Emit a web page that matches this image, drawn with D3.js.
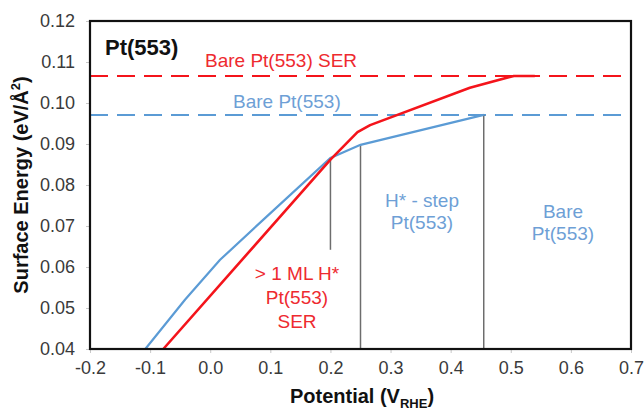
<!DOCTYPE html>
<html>
<head>
<meta charset="utf-8">
<script src="https://cdn.jsdelivr.net/npm/d3@7"></script>
<style>
  html, body { margin: 0; padding: 0; background: #fff; }
  svg { display: block; font-family: "Liberation Sans", Arial, sans-serif; }
</style>
</head>
<body>
<svg id="chart" width="644" height="410"></svg>
<script>
// Axis ticks
const xTicks = [-0.2, -0.1, 0.0, 0.1, 0.2, 0.3, 0.4, 0.5, 0.6, 0.7];
const yTicks = [0.04, 0.05, 0.06, 0.07, 0.08, 0.09, 0.10, 0.11, 0.12];

// Surface energy vs potential, stepped Pt(553)
const bluePotential = [-0.108, -0.042, 0.016, 0.088, 0.2, 0.25, 0.455];
const blueEnergy    = [0.040, 0.052, 0.0617, 0.0715, 0.0866, 0.0898, 0.0971];

// Surface energy vs potential, Pt(553) with surface restructuring (SER)
const redPotential = [-0.078, 0.2, 0.245, 0.266, 0.432, 0.505, 0.54];
const redEnergy    = [0.040, 0.0862, 0.0929, 0.0946, 0.1037, 0.1066, 0.1066];

// Reference levels of the bare surfaces
const bareSER = 0.1066;
const bare = 0.0971;

// Phase boundaries
const boundaries = [
  { x: 0.2,   top: 0.0866, bottom: 0.0642 },
  { x: 0.25,  top: 0.0898, bottom: 0.04 },
  { x: 0.455, top: 0.0971, bottom: 0.04 }
];

const RED = "#f4141b";
const BLUE = "#5b9bd5";
const RED_TXT = "#ee2a2f";
const BLUE_TXT = "#6e9fd6";

const margin = { left: 90, top: 21, right: 13, bottom: 61 };
const W = 644, H = 410;
const iw = W - margin.left - margin.right;
const ih = H - margin.top - margin.bottom;

const svg = d3.select("#chart");
const g = svg.append("g").attr("transform", `translate(${margin.left},${margin.top})`);

const x = d3.scaleLinear().domain([-0.2, 0.7]).range([0, iw]);
const y = d3.scaleLinear().domain([0.04, 0.12]).range([ih, 0]);

// Axes (plain hyphen for negative values)
const xAxis = g.append("g").attr("transform", `translate(0,${ih})`)
  .call(d3.axisBottom(x).tickValues(xTicks).tickFormat(d => d.toFixed(1)).tickSize(4).tickSizeOuter(0));
const yAxis = g.append("g")
  .call(d3.axisLeft(y).tickValues(yTicks).tickFormat(d => d.toFixed(2)).tickSize(4).tickSizeOuter(0));
[xAxis, yAxis].forEach(a => {
  a.select(".domain").remove();
  a.selectAll(".tick line").attr("stroke", "#c8c8c8");
  a.selectAll(".tick text").attr("fill", "#3a3a3a").style("font-size", "18px");
});
xAxis.selectAll(".tick text").attr("y", 25).attr("dy", null);
yAxis.selectAll(".tick text").attr("x", -15);

// Dashed reference levels
g.append("line").attr("x1", 0).attr("x2", iw).attr("y1", y(bareSER)).attr("y2", y(bareSER))
  .attr("stroke", RED).attr("stroke-width", 2).attr("stroke-dasharray", "18,9");
g.append("line").attr("x1", 0).attr("x2", iw).attr("y1", y(bare)).attr("y2", y(bare))
  .attr("stroke", BLUE).attr("stroke-width", 2).attr("stroke-dasharray", "18,9");

// Phase boundary markers
g.selectAll(".boundary").data(boundaries).enter().append("line")
  .attr("class", "boundary")
  .attr("x1", d => x(d.x)).attr("x2", d => x(d.x))
  .attr("y1", d => y(d.top)).attr("y2", d => y(d.bottom))
  .attr("stroke", "#6d6d6d").attr("stroke-width", 1.5);

// Curves
const line = d3.line().x(d => x(d[0])).y(d => y(d[1]));
g.append("path").datum(d3.zip(bluePotential, blueEnergy))
  .attr("d", line).attr("fill", "none").attr("stroke", BLUE).attr("stroke-width", 2.2);
g.append("path").datum(d3.zip(redPotential, redEnergy))
  .attr("d", line).attr("fill", "none").attr("stroke", RED).attr("stroke-width", 2.6)
  .attr("stroke-linejoin", "round");

// Frame
g.append("rect").attr("x", 0).attr("y", 0).attr("width", iw).attr("height", ih)
  .attr("fill", "none").attr("stroke", "#111").attr("stroke-width", 2.2);

// Annotations
function label(lines, cx, cy, color, size, gap, weight, anchor) {
  const t = g.append("text").attr("fill", color).style("font-size", size + "px")
    .style("font-weight", weight || "normal").attr("text-anchor", anchor || "middle");
  lines.forEach((s, i) => {
    t.append("tspan").attr("x", cx).attr("y", cy + i * gap).text(s);
  });
  return t;
}
label(["Pt(553)"], 15, 34, "#111", 22, 0, "bold", "start");
label(["Bare Pt(553) SER"], 115, 46, RED_TXT, 19, 0, "normal", "start");
label(["Bare Pt(553)"], 143, 87, BLUE_TXT, 19, 0, "normal", "start");
label(["H* - step", "Pt(553)"], 332, 186, BLUE_TXT, 19, 22);
label(["Bare", "Pt(553)"], 473, 197, BLUE_TXT, 19, 22);
label(["> 1 ML H*", "Pt(553)", "SER"], 207, 259, RED_TXT, 19, 24);

// Axis titles
svg.append("text").attr("x", 362).attr("y", 403)
  .attr("text-anchor", "middle").attr("fill", "#111")
  .style("font-size", "20px").style("font-weight", "bold")
  .call(t => {
    t.append("tspan").text("Potential (V");
    t.append("tspan").attr("dy", 5).style("font-size", "13px").text("RHE");
    t.append("tspan").attr("dy", -5).text(")");
  });
svg.append("text").attr("transform", `translate(28,185) rotate(-90)`)
  .attr("text-anchor", "middle").attr("fill", "#111")
  .style("font-size", "20px").style("font-weight", "bold")
  .call(t => {
    t.append("tspan").text("Surface Energy (eV/Å");
    t.append("tspan").attr("dy", -8).style("font-size", "13px").text("2");
    t.append("tspan").attr("dy", 8).text(")");
  });
</script>
</body>
</html>
